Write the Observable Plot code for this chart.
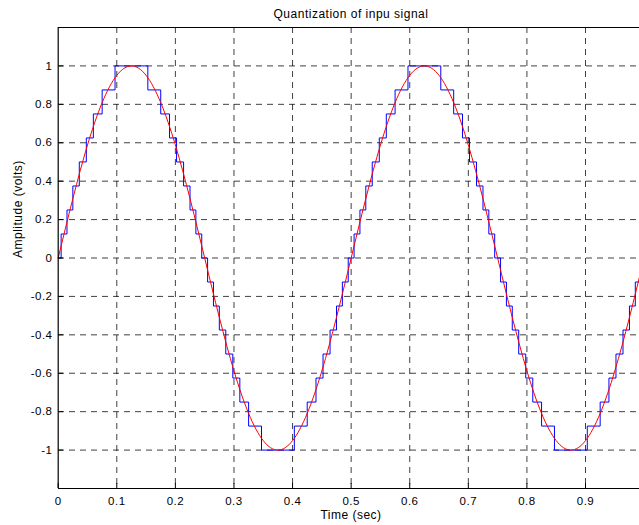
<!DOCTYPE html>
<html>
<head>
<meta charset="utf-8">
<script src="https://cdn.jsdelivr.net/npm/d3@7"></script>
<script src="https://cdn.jsdelivr.net/npm/@observablehq/plot@0.6"></script>
<style>
  html, body { margin: 0; padding: 0; background: white; overflow: hidden; }
  svg text { letter-spacing: 0.5px; }
</style>
</head>
<body>
<div id="chart"></div>
<script>
// Continuous (red) input signal
const signalTimes = [0, 0.025, 0.05, 0.075, 0.1, 0.125, 0.15, 0.175, 0.2, 0.225,
  0.25, 0.275, 0.3, 0.325, 0.35, 0.375, 0.4, 0.425, 0.45, 0.475,
  0.5, 0.525, 0.55, 0.575, 0.6, 0.625, 0.65, 0.675, 0.7, 0.725,
  0.75, 0.775, 0.8, 0.825, 0.85, 0.875, 0.9, 0.925, 0.95, 0.975, 1.0];
const signalValues = [0, 0.309, 0.588, 0.809, 0.951, 1, 0.951, 0.809, 0.588, 0.309,
  0, -0.309, -0.588, -0.809, -0.951, -1, -0.951, -0.809, -0.588, -0.309,
  0, 0.309, 0.588, 0.809, 0.951, 1, 0.951, 0.809, 0.588, 0.309,
  0, -0.309, -0.588, -0.809, -0.951, -1, -0.951, -0.809, -0.588, -0.309, 0];

// Quantized (blue) signal: time where each level starts, and the level
const stepTimes = [0, 0.005, 0.015, 0.025, 0.036, 0.048, 0.060, 0.075, 0.097,
  0.153, 0.175, 0.190, 0.202, 0.214, 0.225, 0.235, 0.245,
  0.255, 0.265, 0.275, 0.286, 0.298, 0.310, 0.325, 0.347,
  0.403, 0.425, 0.440, 0.452, 0.464, 0.475, 0.485, 0.495,
  0.505, 0.515, 0.525, 0.536, 0.548, 0.560, 0.575, 0.597,
  0.653, 0.675, 0.690, 0.702, 0.714, 0.725, 0.735, 0.745,
  0.755, 0.765, 0.775, 0.786, 0.798, 0.810, 0.825, 0.847,
  0.903, 0.925, 0.940, 0.952, 0.964, 0.975, 0.985, 0.995, 1.0];
const stepLevels = [0, 0.125, 0.25, 0.375, 0.5, 0.625, 0.75, 0.875, 1,
  0.875, 0.75, 0.625, 0.5, 0.375, 0.25, 0.125, 0,
  -0.125, -0.25, -0.375, -0.5, -0.625, -0.75, -0.875, -1,
  -0.875, -0.75, -0.625, -0.5, -0.375, -0.25, -0.125, 0,
  0.125, 0.25, 0.375, 0.5, 0.625, 0.75, 0.875, 1,
  0.875, 0.75, 0.625, 0.5, 0.375, 0.25, 0.125, 0,
  -0.125, -0.25, -0.375, -0.5, -0.625, -0.75, -0.875, -1,
  -0.875, -0.75, -0.625, -0.5, -0.375, -0.25, -0.125, 0, 0];

const xTicks = [0, 0.1, 0.2, 0.3, 0.4, 0.5, 0.6, 0.7, 0.8, 0.9];
const xGrid = [0.1, 0.2, 0.3, 0.4, 0.5, 0.6, 0.7, 0.8, 0.9];
const yTicks = [-1, -0.8, -0.6, -0.4, -0.2, 0, 0.2, 0.4, 0.6, 0.8, 1];
const xDomain = [0, 1];
const yDomain = [-1.2, 1.2];

const titleText = "Quantization of inpu signal";
const xLabel = "Time (sec)";
const yLabel = "Amplitude (volts)";

const signal = signalTimes.map((t, i) => ({t, v: signalValues[i]}));
const steps = stepTimes.map((t, i) => ({t, v: stepLevels[i]}));

const fmt = d => String(d);

const chart = Plot.plot({
  width: 639,
  height: 525,
  marginLeft: 58,
  marginTop: 27,
  marginBottom: 37,
  marginRight: 0,
  x: {domain: xDomain, range: [57.7, 643.6]},
  y: {domain: yDomain, range: [488, 27]},
  style: {
    fontFamily: "'Liberation Sans', Arial, Helvetica, sans-serif",
    fontSize: "12px",
    background: "white",
    overflow: "hidden",
    color: "black"
  },
  marks: [
    Plot.ruleX(xGrid, {x: d => d, stroke: "#000", strokeOpacity: 0.75, strokeDasharray: "6,5"}),
    Plot.ruleY(yTicks, {y: d => d, stroke: "#000", strokeOpacity: 0.75, strokeDasharray: "6,5"}),
    Plot.line(steps, {x: "t", y: "v", curve: "step-after", stroke: "#0000ff", strokeWidth: 1}),
    Plot.line(signal, {x: "t", y: "v", curve: "natural", stroke: "#ff0000", strokeWidth: 1}),
    Plot.ruleY([yDomain[0], yDomain[1]], {y: d => d, stroke: "black", strokeWidth: 1.2}),
    Plot.ruleX([xDomain[0], xDomain[1]], {x: d => d, stroke: "black", strokeWidth: 1.2}),
    Plot.axisX({ticks: xTicks, tickFormat: fmt, tickSize: -5, tickPadding: 13, label: null, stroke: "black", fontSize: 11.5}),
    Plot.axisY({ticks: yTicks, tickFormat: fmt, tickSize: -5, tickPadding: 11, label: null, stroke: "black", fontSize: 11.5}),
    Plot.text([titleText], {frameAnchor: "top", dx: 2, dy: -18, fontSize: 12, fill: "black"}),
    Plot.text([xLabel], {frameAnchor: "bottom", dx: 2, dy: 30.5, fontSize: 12, fill: "black"}),
    Plot.text([yLabel], {frameAnchor: "left", dx: -40, rotate: -90, fontSize: 12, fill: "black"})
  ]
});

document.getElementById("chart").appendChild(chart);
</script>
</body>
</html>
